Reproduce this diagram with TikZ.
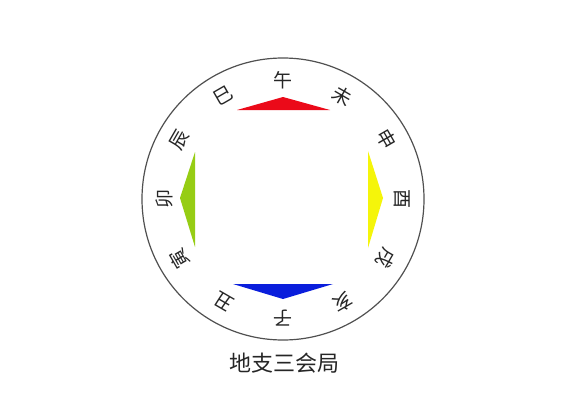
\documentclass[tikz,border=0pt]{standalone}
\usepackage{fontspec}
\usetikzlibrary{calc}
\newfontfamily\cjk{Noto Sans CJK SC}
\definecolor{ringgray}{RGB}{80,80,80}
\definecolor{tred}{RGB}{235,10,25}
\definecolor{tblue}{RGB}{10,30,220}
\definecolor{tgreen}{RGB}{150,205,20}
\definecolor{tyellow}{RGB}{245,245,10}
\begin{document}
\begin{tikzpicture}[x=1pt,y=1pt,
  branch/.style={font=\cjk\fontsize{19}{19}\selectfont, inner sep=0pt, text=black!85},
  ring/.style={draw=ringgray, line width=1.2pt},
  title/.style={font=\cjk\fontsize{22}{22}\selectfont, inner sep=0pt, text=black!85}]
\useasboundingbox (0,0) rectangle (580,416);
\fill[white] (0,0) rectangle (580,416);
\coordinate (c) at (283,217);
\draw[ring] (c) circle (141);
% triangles
\fill[tred] (237,306) -- (330,306) -- (283,319) -- cycle;
\fill[tblue] (233,132) -- (333,132) -- (283,117) -- cycle;
\fill[tgreen] (195,264) -- (195,169) -- (180,218) -- cycle;
\fill[tyellow] (368,265) -- (368,168) -- (383,218) -- cycle;
% branches
\foreach \ch/\ang [count=\i] in {午/90,未/60,申/30,酉/0,戌/-30,亥/-60,子/-90,丑/-120,寅/-150,卯/180,辰/150,巳/120}{
  \node[branch, rotate=\ang-90] (b\i) at ($(c)+(\ang:119)$) {\ch};
}
\node[title] (t) at (284,53) {地支三会局};
\end{tikzpicture}
\end{document}
